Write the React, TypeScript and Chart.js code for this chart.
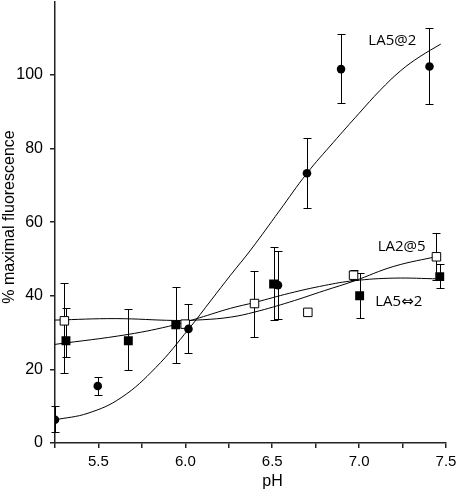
import React, { useEffect, useRef } from "react";
import { Chart, registerables } from "chart.js";

Chart.register(...registerables);

// ---- measured points ----
const la52PH = [5.25, 5.496, 6.018, 6.533, 6.7, 6.896, 7.405];
const la52Val = [6.3, 15.5, 31.0, 42.9, 73.3, 101.6, 102.3];
const la52Low = [3.0, 13.0, 24.5, 33.7, 63.9, 92.4, 92.0];
const la52High = [10.0, 17.9, 37.7, 52.2, 83.0, 111.2, 112.8];

const la25PH = [5.304, 5.999, 6.398, 6.705, 6.968, 7.445];
const la25Val = [33.2, 32.3, 37.9, 35.5, 45.6, 50.6];
const la25Low: (number | null)[] = [19.1, null, 28.7, null, 44.2, 44.2];
const la25High: (number | null)[] = [43.4, null, 46.8, null, 47.0, 57.0];

const la5x2PH = [5.313, 5.672, 5.945, 6.508, 7.003, 7.464];
const la5x2Val = [27.8, 27.8, 32.1, 43.2, 40.0, 45.2];
const la5x2Low = [23.5, 19.8, 21.8, 33.4, 34.0, 42.2];
const la5x2High = [36.6, 36.3, 42.5, 53.2, 46.2, 48.6];

// ---- fitted curves ----
const fit52PH = [5.25, 5.44, 5.63, 5.83, 6.02, 6.15, 6.26, 6.38, 6.54, 6.7, 6.85, 7.0, 7.12, 7.24, 7.35, 7.47];
const fit52Val = [6.3, 8.1, 12.3, 20.5, 31.0, 38.9, 45.6, 52.7, 63.0, 73.3, 81.6, 89.6, 95.8, 101.2, 105.0, 108.4];

const fit25PH = [5.25, 5.6, 5.94, 6.1, 6.26, 6.4, 6.6, 6.8, 6.97, 7.2, 7.46];
const fit25Val = [33.4, 33.8, 33.3, 33.5, 34.2, 35.6, 38.3, 41.4, 44.0, 48.0, 50.8];

const fit5x2PH = [5.25, 5.67, 5.94, 6.08, 6.26, 6.4, 6.6, 6.8, 6.97, 7.2, 7.46];
const fit5x2Val = [26.8, 29.5, 32.1, 34.0, 36.6, 38.2, 40.7, 42.8, 44.1, 44.8, 44.6];

// ---- annotations ----
const labelTexts = ["LA5@2", "LA2@5", "LA5\u21D42"];
const labelPH = [7.053, 7.107, 7.093];
const labelVal = [108.2, 52.3, 37.2];

const xTitle = "pH";
const yTitle = "% maximal fluorescence";

// plot frame (pixels)
const FRAME = { left: 55, right: 446, top: 1.4, bottom: 443 };

const toXY = (xs: number[], ys: number[]) => xs.map((x, i) => ({ x, y: ys[i] }));

const errorSets = [
  { ph: la52PH, low: la52Low, high: la52High },
  { ph: la25PH, low: la25Low, high: la25High },
  { ph: la5x2PH, low: la5x2Low, high: la5x2High },
];

const framePlugin = {
  id: "frame",
  afterLayout(chart: any) {
    const ca = chart.chartArea;
    const x = chart.scales.x;
    const y = chart.scales.y;
    ca.left = FRAME.left;
    ca.right = FRAME.right;
    ca.top = FRAME.top;
    ca.bottom = FRAME.bottom;
    ca.width = FRAME.right - FRAME.left;
    ca.height = FRAME.bottom - FRAME.top;
    y.left = 0;
    y.right = FRAME.left;
    y.width = FRAME.left;
    y.top = FRAME.top;
    y.bottom = FRAME.bottom;
    y.height = FRAME.bottom - FRAME.top;
    x.left = FRAME.left;
    x.right = FRAME.right;
    x.width = FRAME.right - FRAME.left;
    x.top = FRAME.bottom;
    x.bottom = chart.height;
    x.height = chart.height - FRAME.bottom;
    y.configure();
    x.configure();
  },
};

const errorBarPlugin = {
  id: "errorBars",
  beforeDatasetsDraw(chart: any) {
    const { ctx, scales } = chart;
    const xs = scales.x;
    const ys = scales.y;
    ctx.save();
    ctx.strokeStyle = "#000";
    ctx.lineWidth = 1;
    for (const s of errorSets) {
      s.ph.forEach((p: number, i: number) => {
        const lo = s.low[i];
        const hi = s.high[i];
        if (lo == null || hi == null) return;
        const px = Math.round(xs.getPixelForValue(p)) + 0.5;
        const pl = Math.round(ys.getPixelForValue(lo)) + 0.5;
        const ph = Math.round(ys.getPixelForValue(hi)) + 0.5;
        ctx.beginPath();
        ctx.moveTo(px, pl);
        ctx.lineTo(px, ph);
        ctx.moveTo(px - 4, pl);
        ctx.lineTo(px + 4, pl);
        ctx.moveTo(px - 4, ph);
        ctx.lineTo(px + 4, ph);
        ctx.stroke();
      });
    }
    ctx.restore();
  },
};

const textPlugin = {
  id: "texts",
  afterDraw(chart: any) {
    const { ctx, scales, chartArea } = chart;
    const xs = scales.x;
    const ys = scales.y;
    ctx.save();
    ctx.fillStyle = "#000";
    ctx.font = "15px 'Open Sans', 'DejaVu Sans', sans-serif";
    ctx.textAlign = "left";
    ctx.textBaseline = "alphabetic";
    labelTexts.forEach((t, i) => {
      ctx.fillText(t, xs.getPixelForValue(labelPH[i]), ys.getPixelForValue(labelVal[i]));
    });
    // axis titles
    ctx.font = "16px 'Liberation Sans', Arial, sans-serif";
    ctx.textAlign = "center";
    ctx.fillText(xTitle, chartArea.left + 217.5, 486);
    ctx.translate(14, 217);
    ctx.rotate(-Math.PI / 2);
    ctx.fillText(yTitle, 0, 0);
    ctx.restore();
  },
};

export default function App() {
  const ref = useRef<HTMLCanvasElement | null>(null);
  useEffect(() => {
    if (!ref.current) return;
    const lineDs = (xs: number[], ys: number[]) => ({
      type: "line" as const,
      data: toXY(xs, ys),
      showLine: true,
      borderColor: "#000",
      borderWidth: 1,
      pointRadius: 0,
      fill: false,
      tension: 0.4,
    });
    const chart = new Chart(ref.current, {
      type: "scatter",
      data: {
        datasets: [
          {
            label: "LA5@2",
            data: toXY(la52PH, la52Val),
            pointStyle: "circle",
            pointRadius: 4.3,
            backgroundColor: "#000",
            borderColor: "#000",
            borderWidth: 0,
          },
          {
            label: "LA5\u21D42",
            data: toXY(la5x2PH, la5x2Val),
            pointStyle: "rect",
            pointRadius: 6.3,
            backgroundColor: "#000",
            borderColor: "#000",
            borderWidth: 0,
          },
          {
            label: "LA2@5",
            data: toXY(la25PH, la25Val),
            pointStyle: "rect",
            pointRadius: 6,
            backgroundColor: "#fff",
            borderColor: "#000",
            borderWidth: 1,
          },
          lineDs(fit52PH, fit52Val) as any,
          lineDs(fit25PH, fit25Val) as any,
          lineDs(fit5x2PH, fit5x2Val) as any,
        ],
      },
      options: {
        animation: false,
        responsive: false,
        maintainAspectRatio: false,
        layout: { padding: { top: 1.4, right: 12, left: 0, bottom: 0 } },
        plugins: { legend: { display: false }, tooltip: { enabled: false } },
        scales: {
          x: {
            type: "linear",
            min: 5.25,
            max: 7.5,
            afterFit: (s: any) => {
              s.height = 53;
              s.paddingLeft = 0;
              s.paddingRight = 0;
            },
            border: { display: true, color: "#222", width: 1.5 },
            grid: { drawOnChartArea: false, drawTicks: true, tickLength: 5, color: "#222", lineWidth: 1.5 },
            ticks: {
              stepSize: 0.25,
              autoSkip: false,
              maxRotation: 0,
              padding: 5,
              color: "#000",
              font: { family: "'Liberation Sans', Arial, sans-serif", size: 15 },
              callback: (v: any) => {
                const n = Number(v);
                return Math.abs(n * 2 - Math.round(n * 2)) < 1e-6 ? n.toFixed(1) : "";
              },
            },
          },
          y: {
            type: "linear",
            min: 0,
            max: 120,
            afterFit: (s: any) => {
              s.width = 55;
              s.paddingTop = 0;
              s.paddingBottom = 0;
            },
            border: { display: true, color: "#222", width: 1.5 },
            grid: { drawOnChartArea: false, drawTicks: true, tickLength: 5, color: "#222", lineWidth: 1.5 },
            ticks: {
              stepSize: 20,
              padding: 7,
              color: "#000",
              font: { family: "'Liberation Sans', Arial, sans-serif", size: 16 },
              callback: (v: any) => (Number(v) >= 120 ? null : String(v)),
            },
          },
        },
      },
      plugins: [framePlugin, errorBarPlugin, textPlugin],
    } as any);
    return () => chart.destroy();
  }, []);
  return (
    <div style={{ position: "fixed", left: 0, top: 0, width: 458, height: 496, background: "#fff" }}>
      <canvas ref={ref} width={458} height={496} style={{ display: "block", width: 458, height: 496 }} />
    </div>
  );
}
